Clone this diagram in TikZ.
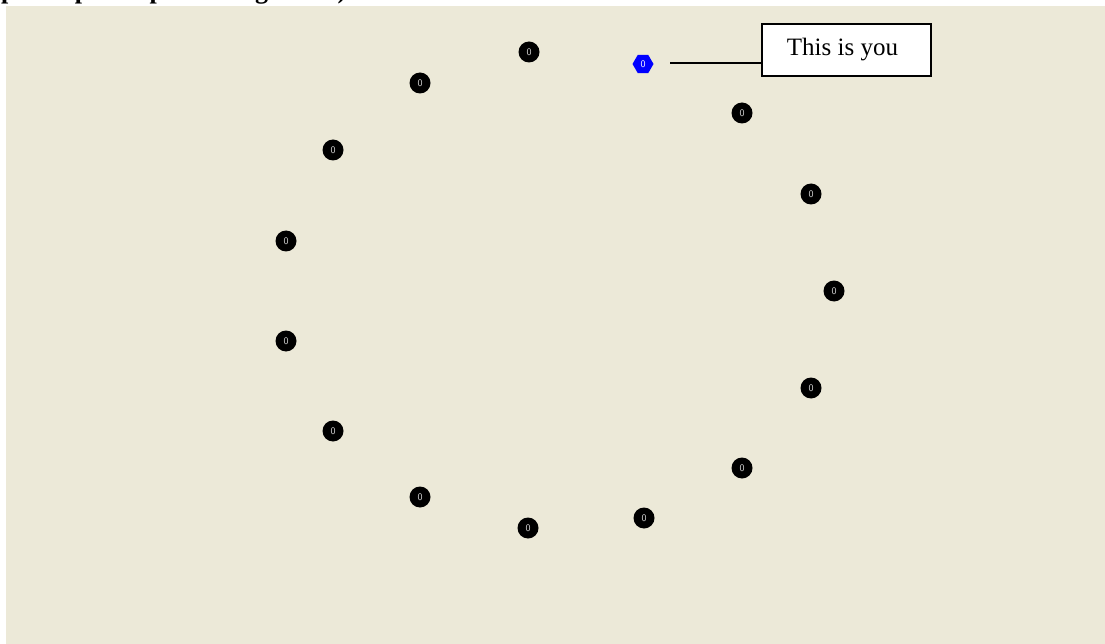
\documentclass[tikz,border=0pt]{standalone}
\usepackage{fontspec}
\setmainfont{Liberation Serif}
\usetikzlibrary{positioning,shapes.geometric}
\definecolor{PanelBeige}{RGB}{236,233,216}
\definecolor{YouBlue}{RGB}{0,0,255}
\definecolor{CountGray}{RGB}{215,215,215}

\begin{document}
\begin{tikzpicture}[x=1pt,y=-1pt,
  seat/.style={circle, fill=black, minimum size=21pt, inner sep=0pt, text=CountGray, font=\sffamily\fontsize{10}{10}\selectfont},
  youseat/.style={regular polygon, regular polygon sides=6, fill=YouBlue, minimum size=21pt, inner sep=0pt, text=white, font=\sffamily\fontsize{10}{10}\selectfont},
  callout/.style={draw, line width=1.6pt, fill=white, minimum width=169pt, minimum height=52pt, inner sep=0pt, font=\fontsize{25}{25}\selectfont}]
  \clip (0,0) rectangle (1105,644);
  \fill[white] (0,0) rectangle (1105,644);
  \fill[PanelBeige] (6,6) rectangle (1105,644);
  \node[anchor=base west, inner sep=0pt, font=\bfseries\fontsize{26}{26}\selectfont] (head) at (1,-1.5) {participant's panels in general)};

  % the ring of participants
  \node[seat] (p1) at (529,52) {0};
  \node[youseat] (you) at (643,64) {0};
  \node[seat] (p3) at (742,113) {0};
  \node[seat] (p4) at (811,194) {0};
  \node[seat] (p5) at (834,291) {0};
  \node[seat] (p6) at (811,388) {0};
  \node[seat] (p7) at (742,468) {0};
  \node[seat] (p8) at (644,518) {0};
  \node[seat] (p9) at (528,528) {0};
  \node[seat] (p10) at (420,497) {0};
  \node[seat] (p11) at (333,431) {0};
  \node[seat] (p12) at (286,341) {0};
  \node[seat] (p13) at (286,241) {0};
  \node[seat] (p14) at (333,150) {0};
  \node[seat] (p15) at (420,83) {0};

  % label pointing at you
  \node[callout] (youbox) at (846.5,50) {\hspace*{-8pt}This is you};
  \coordinate (youtip) at (670,63);
  \draw[line width=1.6pt] (youtip) -- (youtip -| youbox.west);
\end{tikzpicture}
\end{document}
